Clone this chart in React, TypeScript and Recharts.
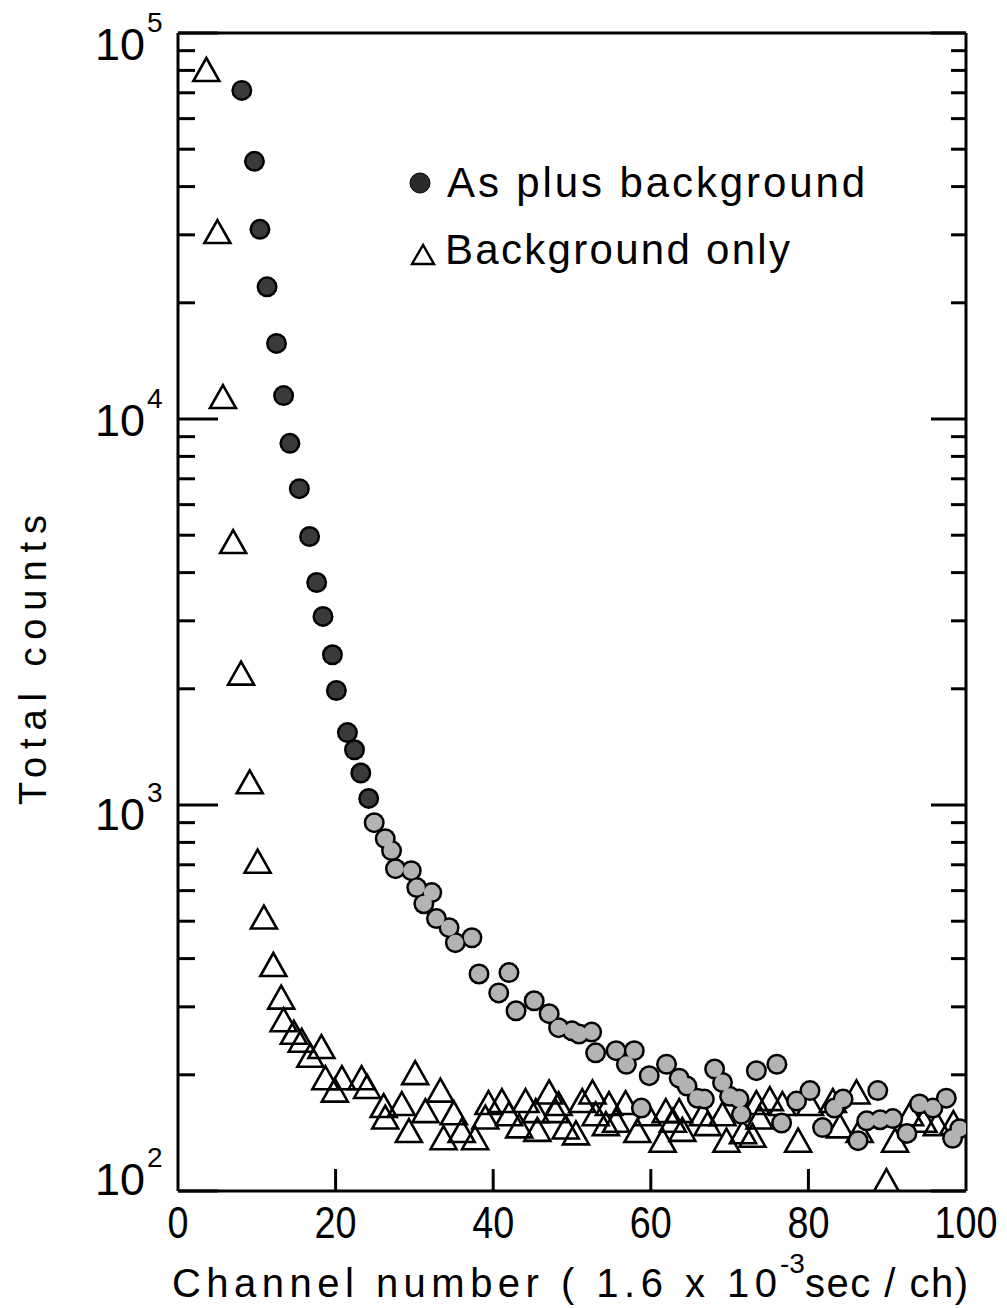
import React from "react";
import { ScatterChart, Scatter, XAxis, YAxis, Legend } from "recharts";

// As plus background (filled circles)
const asChannels = [
  8.1, 9.7, 10.4, 11.3, 12.5, 13.4, 14.2, 15.4, 16.7, 17.6, 18.4, 19.6, 20.1,
  21.5, 22.4, 23.2, 24.2, 24.9, 26.3, 27.1, 27.6, 29.6, 30.3, 31.2, 32.2, 32.8,
  34.4, 35.2, 37.3, 38.2, 40.7, 42.0, 42.9, 45.2, 47.1, 48.3, 50.0, 50.9, 52.5,
  53.0, 55.6, 56.9, 57.9, 58.8, 59.8, 62.0, 63.6, 64.6, 65.9, 66.8, 68.1, 69.1,
  70.0, 71.2, 71.5, 73.4, 76.0, 76.6, 78.5, 80.2, 81.8, 83.3, 84.4, 86.3, 87.4,
  88.8, 89.1, 90.7, 92.5, 94.1, 95.8, 97.5, 98.3, 99.2,
];
const asCounts = [
  71000, 46500, 31000, 22000, 15700, 11500, 8650, 6600, 4960, 3770, 3080, 2450,
  1980, 1540, 1390, 1210, 1040, 900, 818, 762, 684, 676, 611, 555, 593, 508,
  481, 440, 453, 365, 326, 368, 293, 311, 288, 265, 260, 255, 258, 228, 231,
  213, 231, 164, 199, 213, 196, 187, 174, 173, 207, 191, 176, 173, 158, 205,
  213, 150, 171, 182, 146, 164, 173, 135, 152, 182, 153, 154, 141, 168, 164,
  174, 137, 145,
];

// Background only (open triangles)
const bgChannels = [
  3.6, 5.0, 5.7, 7.0, 8.0, 9.1, 10.1, 10.9, 12.1, 13.1, 13.4, 14.7, 15.7, 16.8,
  18.2, 18.7, 19.9, 20.8, 23.3, 24.0, 26.1, 26.3, 28.4, 29.3, 30.1, 31.4, 33.3,
  33.7, 35.0, 36.0, 37.7, 39.0, 39.4, 41.1, 42.0, 43.3, 44.1, 45.4, 45.6, 47.1,
  47.9, 48.3, 49.2, 50.5, 51.3, 52.6, 53.0, 54.3, 54.7, 55.6, 56.8, 58.3, 59.6,
  61.5, 61.9, 62.8, 63.6, 64.0, 66.6, 67.2, 69.1, 69.6, 71.7, 72.9, 73.4, 73.8,
  75.1, 76.7, 78.7, 80.2, 83.1, 84.0, 86.1, 86.5, 89.9, 91.0, 92.9, 94.6, 96.3,
  98.4,
];
const bgCounts = [
  80200, 30500, 11400, 4800, 2190, 1145, 713, 511, 385, 317, 277, 257, 245,
  224, 236, 196, 182, 196, 196, 186, 166, 155, 168, 143, 202, 161, 182, 137,
  159, 143, 137, 155, 169, 171, 158, 147, 171, 161, 144, 180, 161, 168, 146,
  141, 171, 180, 158, 149, 168, 152, 169, 143, 158, 135, 161, 152, 161, 144,
  158, 149, 158, 135, 142, 139, 169, 155, 173, 168, 135, 168, 171, 147, 180,
  143, 106, 135, 158, 152, 149, 150,
];

const xTicks = [0, 20, 40, 60, 80, 100];
const xInnerTicks = [20, 40, 60, 80];
const decades = [100, 1000, 10000];
const yTicks = [
  ...decades.flatMap((d) => [1, 2, 3, 4, 5, 6, 7, 8, 9].map((m) => m * d)),
  100000,
];

const asData = asChannels.map((ch, i) => ({ ch, counts: asCounts[i] }));
const bgData = bgChannels.map((ch, i) => ({ ch, counts: bgCounts[i] }));

const FONT = "'Liberation Sans', Arial, sans-serif";

// vertical nudge of the "10" label centre relative to its tick
const labelShift: Record<number, number> = { 100: -12, 1000: 9, 10000: 1, 100000: 11 };

const isDecade = (v: number) => {
  const l = Math.log10(v);
  return Math.abs(l - Math.round(l)) < 1e-6;
};

const LeftTick = (props: any) => {
  const { x, y, payload } = props;
  const v = payload.value;
  const major = isDecade(v);
  const exp = Math.round(Math.log10(v));
  const c = y + (labelShift[v] ?? 5);
  return (
    <g>
      <line x1={x} x2={x + (major ? 40 : 17)} y1={y} y2={y} stroke="#000" strokeWidth={3} />
      {major && (
        <>
          <text x={x - 33} y={c + 16} textAnchor="end" fontSize={44} fontFamily={FONT} fill="#000" textLength={50} lengthAdjust="spacingAndGlyphs">
            10
          </text>
          <text x={x - 31} y={c - 12} fontSize={28} fontFamily={FONT} fill="#000">
            {exp}
          </text>
        </>
      )}
    </g>
  );
};

const RightTick = (props: any) => {
  const { x, y, payload } = props;
  const major = isDecade(payload.value);
  return <line x1={x} x2={x - (major ? 35 : 15)} y1={y} y2={y} stroke="#000" strokeWidth={3} />;
};

const BottomTick = (props: any) => {
  const { x, y, payload } = props;
  const v = payload.value;
  const s = String(v);
  return (
    <g>
      {xInnerTicks.includes(v) && (
        <line x1={x} x2={x} y1={y} y2={y - 22} stroke="#000" strokeWidth={3} />
      )}
      <text x={x} y={y + 47} textAnchor="middle" fontSize={44} fontFamily={FONT} fill="#000" textLength={s.length * 21} lengthAdjust="spacingAndGlyphs">
        {s}
      </text>
    </g>
  );
};

const TopTick = (props: any) => {
  const { x, y } = props;
  return <line x1={x} x2={x} y1={y} y2={y + 26} stroke="#000" strokeWidth={3} />;
};

const circleOutline = (p: any) => <circle cx={p.cx} cy={p.cy} r={10.5} fill="#000" />;
const circleFill = (p: any) => (
  <circle cx={p.cx} cy={p.cy} r={8} fill={p.payload && p.payload.ch < 24.5 ? "#3a3a3a" : "#b3b3b3"} />
);
const triangle = (p: any) => {
  const { cx, cy } = p;
  const pts = `${cx},${cy - 12} ${cx - 13},${cy + 11} ${cx + 13},${cy + 11}`;
  return <polygon points={pts} fill="none" stroke="#000" strokeWidth={2.6} strokeLinejoin="miter" />;
};

const LegendBox = () => (
  <svg width={500} height={130}>
    <circle cx={20} cy={33} r={10} fill="#2a2a2a" stroke="#000" strokeWidth={1} />
    <text x={47} y={47} fontSize={42} fontFamily={FONT} fill="#000" textLength={418} lengthAdjust="spacing">
      As plus background
    </text>
    <polygon points="23,95 12,114 34,114" fill="none" stroke="#000" strokeWidth={2.4} />
    <text x={45} y={114} fontSize={42} fontFamily={FONT} fill="#000" textLength={345} lengthAdjust="spacing">
      Background only
    </text>
  </svg>
);

const XTitle = () => (
  <g fontFamily={FONT} fill="#000">
    <text x={164} y={1289} fontSize={40} textLength={605} lengthAdjust="spacing">
      Channel number ( 1.6 x 10
    </text>
    <text x={772} y={1265} fontSize={28}>
      -3
    </text>
    <text x={797} y={1289} fontSize={40} textLength={163} lengthAdjust="spacing">
      sec / ch)
    </text>
  </g>
);

const YTitle = () => (
  <text x={38} y={652} transform="rotate(-90 38 652)" textAnchor="middle" fontSize={38} fontFamily={FONT} fill="#000" textLength={290} lengthAdjust="spacing">
    Total counts
  </text>
);

export default function App() {
  return (
    <ScatterChart width={999} height={1300} margin={{ top: 0, right: 0, bottom: 0, left: 0 }}>
      <XAxis
        xAxisId="bottom"
        dataKey="ch"
        type="number"
        domain={[0, 100]}
        allowDataOverflow
        ticks={xTicks}
        interval={0}
        height={117}
        tickSize={0}
        tickMargin={0}
        tick={<BottomTick />}
        axisLine={{ stroke: "#000", strokeWidth: 3 }}
        label={{ content: () => <XTitle /> }}
      />
      <XAxis
        xAxisId="top"
        orientation="top"
        type="number"
        domain={[0, 100]}
        allowDataOverflow
        ticks={xInnerTicks}
        interval={0}
        height={25}
        tickSize={0}
        tickMargin={0}
        tick={<TopTick />}
        axisLine={{ stroke: "#000", strokeWidth: 3 }}
      />
      <YAxis
        yAxisId="left"
        dataKey="counts"
        type="number"
        scale="log"
        domain={[100, 100000]}
        allowDataOverflow
        ticks={yTicks}
        interval={0}
        width={170}
        tickSize={0}
        tickMargin={0}
        tick={<LeftTick />}
        axisLine={{ stroke: "#000", strokeWidth: 3 }}
        label={{ content: () => <YTitle /> }}
      />
      <YAxis
        yAxisId="right"
        orientation="right"
        type="number"
        scale="log"
        domain={[100, 100000]}
        allowDataOverflow
        ticks={yTicks}
        interval={0}
        width={41}
        tickSize={0}
        tickMargin={0}
        tick={<RightTick />}
        axisLine={{ stroke: "#000", strokeWidth: 3 }}
      />
      <Legend
        layout="vertical"
        verticalAlign="middle"
        align="center"
        wrapperStyle={{ position: "absolute", left: 392, top: 142, width: 500, height: 130 }}
        content={() => <LegendBox />}
      />
      <Scatter name="Background only" data={bgData} xAxisId="bottom" yAxisId="left" shape={triangle} isAnimationActive={false} />
      <Scatter name="As plus background" data={asData} xAxisId="bottom" yAxisId="left" shape={circleOutline} isAnimationActive={false} legendType="none" />
      <Scatter name="As plus background fill" data={asData} xAxisId="bottom" yAxisId="left" shape={circleFill} isAnimationActive={false} legendType="none" />
    </ScatterChart>
  );
}
